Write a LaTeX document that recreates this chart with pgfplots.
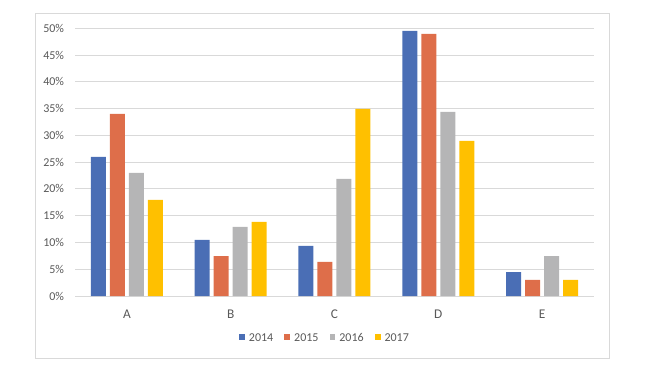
\documentclass[border=0pt]{standalone}
\usepackage{pgfplots}
\pgfplotsset{compat=1.18}
\usepackage{fontspec}
\setmainfont{Carlito}
\definecolor{c14}{HTML}{4A6EB5}
\definecolor{c15}{HTML}{DE6E4A}
\definecolor{c16}{HTML}{B5B5B6}
\definecolor{c17}{HTML}{FFC000}
\definecolor{gridc}{HTML}{D9D9D9}
\definecolor{txt}{HTML}{595959}
\pgfplotsset{legsq/.style={legend image code/.code={\fill[##1] (0pt,0.6pt) rectangle (4.4pt,5.0pt);}}}
\begin{document}
\begin{tikzpicture}
\path (0,0) rectangle (484.5pt,281.25pt);
\draw[gridc, line width=0.75pt] (26.25pt,12.75pt) rectangle (456.75pt,270.75pt);
\begin{axis}[
  at={(56.25pt,59.25pt)}, anchor=south west,
  scale only axis, width=389.25pt, height=200.8pt,
  ybar=3pt, bar width=11.25pt,
  xmin=-0.5, xmax=4.5, ymin=0, ymax=50,
  xtick={0,1,2,3,4}, xticklabels={A,B,C,D,E},
  ytick={0,5,...,50},
  yticklabel={\pgfmathprintnumber{\tick}\%},
  /pgf/number format/assume math mode=true,
  major tick length=0pt,
  axis line style={draw=none},
  ymajorgrids, grid style={gridc, line width=0.75pt},
  yticklabel style={anchor=east, inner sep=0pt, xshift=-8pt, font=\fontsize{9}{11}\selectfont, text=txt},
  xticklabel style={anchor=base, inner sep=0pt, yshift=-16.5pt, font=\fontsize{10}{12}\selectfont, text=txt},
  legend columns=4,
  legend style={draw=none, fill=none, at={(axis description cs:0.4798,-0.157)}, anchor=center,
    font=\fontsize{9}{11}\selectfont, text=txt,
    nodes={inner sep=0pt, anchor=base west},
    /tikz/every odd column/.append style={column sep=3pt},
    /tikz/every even column/.append style={column sep=8.25pt}},
]
\addplot[fill=c14, draw=none, legsq] coordinates {(0,25.97) (1,10.46) (2,9.34) (3,49.5) (4,4.48)};
\addplot[fill=c15, draw=none, legsq] coordinates {(0,34.0) (1,7.47) (2,6.35) (3,48.94) (4,2.99)};
\addplot[fill=c16, draw=none, legsq] coordinates {(0,22.98) (1,12.89) (2,21.86) (3,34.37) (4,7.47)};
\addplot[fill=c17, draw=none, legsq] coordinates {(0,17.93) (1,13.82) (2,34.93) (3,28.95) (4,2.99)};
\legend{2014,2015,2016,2017}
\end{axis}
\end{tikzpicture}
\end{document}
